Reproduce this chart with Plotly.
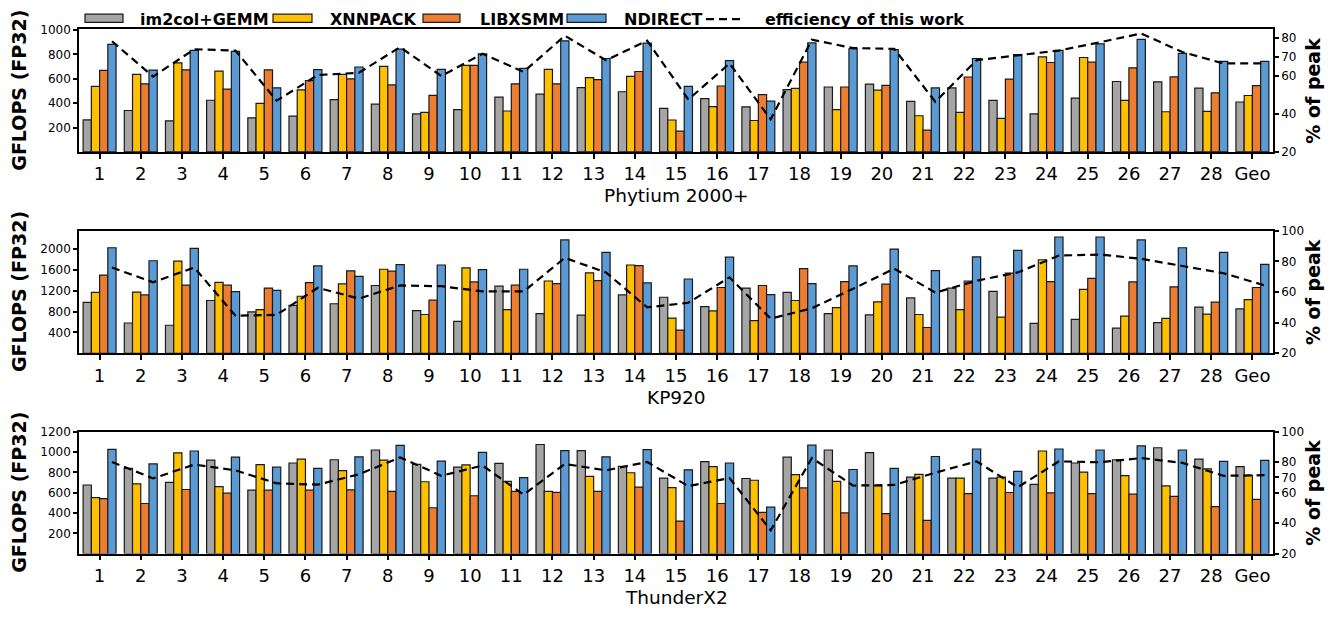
import plotly.graph_objects as go

W, H = 1339, 617

labels = ["1", "2", "3", "4", "5", "6", "7", "8", "9", "10", "11", "12", "13", "14",
          "15", "16", "17", "18", "19", "20", "21", "22", "23", "24", "25", "26", "27", "28", "Geo"]
series_names = ["im2col+GEMM", "XNNPACK", "LIBXSMM", "NDIRECT"]
series_colors = ["#A5A5A5", "#FFC000", "#ED7D31", "#5B9BD5"]
platforms = ["Phytium 2000+", "KP920", "ThunderX2"]

# ---- Phytium 2000+ ----
phy_im2col = [263, 340, 255, 424, 280, 294, 430, 392, 312, 348, 450, 474, 527, 494,
              358, 437, 370, 511, 533, 557, 415, 525, 423, 313, 442, 578, 575, 524, 410]
phy_xnnpack = [538, 637, 731, 663, 398, 510, 637, 703, 325, 711, 336, 677, 610, 620,
               262, 372, 258, 522, 348, 508, 297, 324, 275, 780, 775, 423, 330, 333, 463]
phy_libxsmm = [670, 559, 674, 516, 674, 585, 600, 550, 464, 711, 559, 559, 594, 660,
               170, 541, 470, 737, 533, 546, 179, 615, 598, 734, 737, 690, 616, 485, 545]
phy_ndirect = [882, 672, 833, 825, 526, 675, 697, 843, 677, 806, 686, 912, 767, 893,
               538, 750, 417, 895, 847, 839, 525, 767, 798, 834, 887, 923, 809, 743, 743]
phy_eff = [78.3, 59.7, 74.1, 73.4, 47.0, 60.5, 61.7, 75.2, 60.0, 71.7, 62.2, 81.2, 68.3, 78.6,
           47.6, 66.6, 37.2, 79.1, 74.7, 74.3, 46.4, 68.3, 70.9, 73.4, 77.8, 82.4, 72.6, 66.6, 66.6]

# ---- KP920 ----
kp_im2col = [975, 581, 537, 1012, 794, 919, 950, 1300, 819, 612, 1287, 760, 731, 1119,
             1075, 894, 1250, 1169, 762, 737, 1062, 1250, 1187, 575, 650, 481, 587, 887, 850]
kp_xnnpack = [1169, 1175, 1769, 1362, 837, 1094, 1331, 1612, 744, 1637, 837, 1387, 1544, 1694,
              675, 812, 625, 1012, 875, 987, 744, 837, 694, 1794, 1225, 712, 669, 750, 1031]
kp_libxsmm = [1500, 1119, 1306, 1306, 1250, 1356, 1581, 1575, 1019, 1369, 1306, 1337, 1394, 1681,
              444, 1262, 1300, 1625, 1375, 1325, 494, 1387, 1537, 1375, 1437, 1369, 1275, 981, 1262]
kp_ndirect = [2025, 1775, 2012, 1181, 1206, 1675, 1475, 1700, 1694, 1606, 1612, 2175, 1937, 1350,
              1425, 1844, 1125, 1337, 1675, 2000, 1587, 1850, 1975, 2231, 2231, 2175, 2025, 1937, 1706]
kp_eff = [76.0, 66.4, 76.0, 44.5, 45.1, 62.8, 55.7, 64.3, 63.8, 60.4, 60.4, 82.3, 72.8, 50.0,
          53.0, 69.6, 42.6, 49.4, 62.1, 75.3, 59.6, 67.4, 72.8, 83.8, 84.5, 81.7, 77.0, 72.3, 64.3]

# ---- ThunderX2 ----
tx_im2col = [676, 839, 702, 922, 625, 893, 925, 1021, 880, 852, 890, 1075, 1014, 861,
             743, 906, 740, 950, 1021, 995, 753, 743, 743, 682, 893, 925, 1043, 931, 858]
tx_xnnpack = [551, 688, 993, 660, 877, 932, 817, 922, 708, 874, 712, 613, 762, 797,
              650, 858, 723, 778, 712, 667, 781, 743, 753, 1011, 804, 769, 667, 836, 772]
tx_libxsmm = [542, 494, 632, 596, 625, 625, 629, 613, 452, 570, 613, 604, 613, 656,
              321, 494, 407, 647, 401, 394, 327, 592, 602, 599, 592, 586, 564, 464, 535]
tx_ndirect = [1028, 884, 1011, 951, 852, 839, 954, 1066, 912, 998, 749, 1014, 954, 1024,
              826, 893, 458, 1069, 829, 839, 957, 1031, 810, 1031, 1021, 1062, 1021, 909, 919]
tx_eff = [80.2, 69.4, 78.5, 74.7, 66.2, 65.3, 72.1, 83.2, 71.1, 77.9, 58.7, 78.9, 74.7, 80.2,
          64.3, 69.6, 35.3, 82.8, 64.7, 65.1, 73.2, 80.6, 63.6, 80.6, 80.0, 82.8, 79.6, 71.1, 71.5]

panel_bars = [
    [phy_im2col, phy_xnnpack, phy_libxsmm, phy_ndirect],
    [kp_im2col, kp_xnnpack, kp_libxsmm, kp_ndirect],
    [tx_im2col, tx_xnnpack, tx_libxsmm, tx_ndirect],
]
panel_eff = [phy_eff, kp_eff, tx_eff]

left_ranges = [[0, 1005], [0, 2350], [0, 1200]]
left_ticks = [[200, 400, 600, 800, 1000], [400, 800, 1200, 1600, 2000], [200, 400, 600, 800, 1000, 1200]]
right_ranges = [[20, 84.5], [20, 100], [20, 100]]
right_ticks = [[20, 40, 60, 70, 80], [20, 40, 60, 80, 100], [20, 40, 60, 70, 80, 100]]

# layout geometry in pixels
X0, X1 = 79, 1273
panel_px = [(23, 148.3), (229, 354.3), (434.7, 559.3)]
FONT = "DejaVu Sans"

def px_x(x):
    return x / W

def px_y(y):
    return 1 - y / H

idx = list(range(len(labels)))
n_series = len(series_names)
bar_w = 0.8 / n_series
line_offset = 1.5 * bar_w  # the line sits over the NDIRECT bar

fig = go.Figure()
for p in range(3):
    xa = "x" if p == 0 else f"x{p+1}"
    ya = "y" if p == 0 else f"y{p+1}"
    yr = f"y{p+4}"
    for s in range(n_series):
        fig.add_trace(go.Bar(
            x=idx, y=panel_bars[p][s], name=series_names[s],
            marker=dict(color=series_colors[s], line=dict(color="#1a1a1a", width=1.2)),
            xaxis=xa, yaxis=ya, showlegend=False,
        ))
    fig.add_trace(go.Scatter(
        x=[i + line_offset for i in idx], y=panel_eff[p], mode="lines",
        line=dict(color="black", width=2.2, dash="8px,5px"),
        xaxis=xa, yaxis=yr, showlegend=False, name="efficiency of this work",
    ))

layout = dict(
    width=W, height=H, margin=dict(l=0, r=0, t=0, b=0),
    paper_bgcolor="white", plot_bgcolor="white",
    barmode="group", bargap=0.2, bargroupgap=0,
    font=dict(family=FONT, color="black"),
    showlegend=False,
)
annotations = []
shapes = []
for p in range(3):
    top, bot = panel_px[p]
    dom = [px_y(bot), px_y(top)]
    xk = "xaxis" if p == 0 else f"xaxis{p+1}"
    yk = "yaxis" if p == 0 else f"yaxis{p+1}"
    yrk = f"yaxis{p+4}"
    ya = "y" if p == 0 else f"y{p+1}"
    xa = "x" if p == 0 else f"x{p+1}"
    layout[xk] = dict(
        domain=[px_x(X0), px_x(X1)], anchor=ya, range=[-0.5, len(labels) - 0.5],
        tickmode="array", tickvals=idx, ticktext=labels,
        ticks="outside", ticklen=5, tickwidth=1.5, tickcolor="black",
        showline=True, linecolor="black", linewidth=1.5, mirror=True,
        showgrid=False, zeroline=False, tickfont=dict(size=18, family=FONT),
    )
    layout[yk] = dict(
        domain=dom, anchor=xa, range=left_ranges[p],
        tickmode="array", tickvals=left_ticks[p],
        ticks="outside", ticklen=4, tickwidth=1.5, tickcolor="black",
        showline=True, linecolor="black", linewidth=1.5,
        showgrid=False, zeroline=False, tickfont=dict(size=12, family=FONT),
    )
    layout[yrk] = dict(
        overlaying=ya, side="right", anchor=xa, range=right_ranges[p],
        tickmode="array", tickvals=right_ticks[p],
        ticks="outside", ticklen=4, tickwidth=1.5, tickcolor="black",
        showline=True, linecolor="black", linewidth=1.5,
        showgrid=False, zeroline=False, tickfont=dict(size=12, family=FONT),
    )
    mid = (top + bot) / 2
    annotations.append(dict(
        text="<b>GFLOPS (FP32)</b>", xref="paper", yref="paper", x=px_x(19), y=px_y(mid),
        textangle=-90, showarrow=False, xanchor="center", yanchor="middle",
        font=dict(size=19, family=FONT),
    ))
    annotations.append(dict(
        text="<b>% of peak</b>", xref="paper", yref="paper", x=px_x(1313), y=px_y(mid),
        textangle=-90, showarrow=False, xanchor="center", yanchor="middle",
        font=dict(size=19, family=FONT),
    ))
    annotations.append(dict(
        text=platforms[p], xref="paper", yref="paper", x=px_x((X0 + X1) / 2), y=px_y(bot + 45),
        showarrow=False, xanchor="center", yanchor="middle",
        font=dict(size=18.5, family=FONT),
    ))

# custom legend
box_x = [(85, 123), (273, 312), (423, 460), (567, 606)]
text_x = [138, 328, 478, 622]
for s in range(n_series):
    shapes.append(dict(
        type="rect", xref="paper", yref="paper",
        x0=px_x(box_x[s][0]), x1=px_x(box_x[s][1]), y0=px_y(15.7), y1=px_y(7.3),
        fillcolor=series_colors[s], line=dict(color="#1a1a1a", width=1.2),
    ))
    annotations.append(dict(
        text=f"<b>{series_names[s]}</b>", xref="paper", yref="paper",
        x=px_x(text_x[s]), y=px_y(13), showarrow=False, xanchor="left", yanchor="middle",
        font=dict(size=16, family=FONT),
    ))
shapes.append(dict(
    type="line", xref="paper", yref="paper", x0=px_x(706), x1=px_x(745), y0=px_y(12.5), y1=px_y(12.5),
    line=dict(color="black", width=2.2, dash="8px,5px"),
))
annotations.append(dict(
    text="<b>efficiency of this work</b>", xref="paper", yref="paper",
    x=px_x(763), y=px_y(13), showarrow=False, xanchor="left", yanchor="middle",
    font=dict(size=16, family=FONT),
))

layout["annotations"] = annotations
layout["shapes"] = shapes
fig.update_layout(**layout)
fig.write_html("out.html", config={"displayModeBar": False},
               post_script="document.body.style.margin='0';")
